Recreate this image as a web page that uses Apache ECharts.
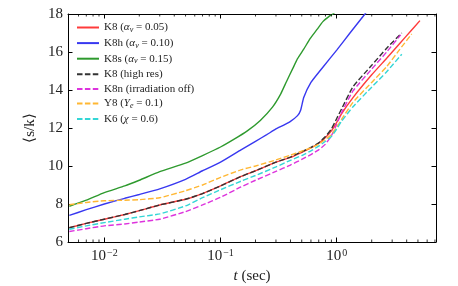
<!DOCTYPE html>
<html>
<head>
<meta charset="utf-8">
<script src="https://cdn.jsdelivr.net/npm/echarts@6/dist/echarts.min.js"></script>
<style>html,body{margin:0;padding:0;background:#fff}#c{width:458px;height:286px}</style>
</head>
<body>
<div id="c"></div>
<script>
// ---- data ----
const seriesNames = ['K8', 'K8h', 'K8s', 'K8 (high res)', 'K8n', 'Y8', 'K6'];
const legendLabels = [
  'K8 ({i|α}{sub|ν} = 0.05)',
  'K8h ({i|α}{sub|ν} = 0.10)',
  'K8s ({i|α}{sub|ν} = 0.15)',
  'K8 (high res)',
  'K8n (irradiation off)',
  'Y8 ({i|Y}{sub|e} = 0.1)',
  'K6 ({i|χ} = 0.6)'
];
const tRed = [0.005, 0.007, 0.01, 0.015, 0.02, 0.03, 0.05, 0.07, 0.1, 0.15, 0.2, 0.3, 0.4, 0.5, 0.6, 0.7, 0.8, 0.9, 1.0, 1.1, 1.38, 2.0, 2.69, 3.5, 4.3, 5.2];
const sRed = [6.75, 6.98, 7.2, 7.45, 7.65, 7.95, 8.25, 8.55, 8.95, 9.45, 9.75, 10.2, 10.45, 10.72, 10.95, 11.2, 11.5, 11.85, 12.3, 12.75, 13.6, 14.8, 15.67, 16.46, 17.08, 17.65];
const tBlue = [0.005, 0.007, 0.01, 0.015, 0.02, 0.03, 0.05, 0.07, 0.1, 0.15, 0.2, 0.25, 0.3, 0.35, 0.4, 0.46, 0.49, 0.52, 0.6, 0.76, 1.0, 1.3, 1.75, 1.85];
const sBlue = [7.4, 7.7, 8.0, 8.3, 8.5, 8.8, 9.3, 9.75, 10.2, 10.85, 11.3, 11.65, 11.95, 12.15, 12.35, 12.65, 12.95, 13.6, 14.4, 15.2, 16.1, 17.0, 18.0, 18.2];
const tGreen = [0.005, 0.007, 0.01, 0.015, 0.02, 0.03, 0.05, 0.07, 0.1, 0.13, 0.17, 0.22, 0.28, 0.33, 0.37, 0.42, 0.46, 0.52, 0.59, 0.68, 0.76, 0.85, 0.95, 1.0];
const sGreen = [7.88, 8.2, 8.6, 8.95, 9.25, 9.7, 10.15, 10.55, 11.0, 11.4, 11.85, 12.4, 13.1, 13.8, 14.45, 15.15, 15.65, 16.15, 16.7, 17.2, 17.6, 17.85, 18.05, 18.2];
const tBlack = [0.005, 0.007, 0.01, 0.015, 0.02, 0.03, 0.05, 0.07, 0.1, 0.15, 0.2, 0.3, 0.4, 0.5, 0.6, 0.7, 0.8, 0.9, 1.0, 1.1, 1.38, 2.0, 2.69, 3.63];
const sBlack = [6.75, 6.98, 7.2, 7.45, 7.65, 7.95, 8.25, 8.55, 8.95, 9.45, 9.75, 10.2, 10.47, 10.75, 10.98, 11.22, 11.55, 11.95, 12.5, 13.0, 14.17, 15.3, 16.2, 17.0];
const tMag = [0.005, 0.007, 0.01, 0.015, 0.02, 0.03, 0.05, 0.07, 0.1, 0.15, 0.2, 0.3, 0.4, 0.5, 0.6, 0.7, 0.8, 0.9, 1.0, 1.1, 1.38, 2.0, 2.69, 3.55];
const sMag = [6.55, 6.7, 6.85, 6.95, 7.05, 7.2, 7.6, 7.95, 8.35, 8.9, 9.25, 9.72, 10.05, 10.35, 10.6, 10.85, 11.15, 11.6, 12.2, 12.8, 13.95, 15.1, 16.0, 16.9];
const tOr = [0.005, 0.007, 0.01, 0.015, 0.02, 0.03, 0.05, 0.07, 0.1, 0.15, 0.2, 0.3, 0.4, 0.5, 0.6, 0.7, 0.8, 0.9, 1.0, 1.1, 1.38, 2.0, 2.69, 3.5, 4.42];
const sOr = [7.96, 8.08, 8.17, 8.2, 8.23, 8.33, 8.7, 9.0, 9.4, 9.8, 10.0, 10.32, 10.57, 10.78, 10.95, 11.15, 11.4, 11.65, 12.05, 12.45, 13.35, 14.4, 15.23, 16.15, 16.95];
const tCyan = [0.005, 0.007, 0.01, 0.015, 0.02, 0.03, 0.05, 0.07, 0.1, 0.15, 0.2, 0.3, 0.4, 0.5, 0.6, 0.7, 0.8, 0.9, 1.0, 1.1, 1.38, 2.0, 2.69, 3.63];
const sCyan = [6.67, 6.85, 7.02, 7.2, 7.32, 7.48, 7.9, 8.33, 8.75, 9.2, 9.5, 9.95, 10.3, 10.55, 10.8, 11.05, 11.3, 11.55, 11.95, 12.35, 13.12, 14.15, 14.96, 15.88];
const minorTicksX = [0.006, 0.007, 0.008, 0.009, 0.02, 0.03, 0.04, 0.05, 0.06, 0.07, 0.08, 0.09, 0.2, 0.3, 0.4, 0.5, 0.6, 0.7, 0.8, 0.9, 2, 3, 4, 5, 6, 7];
const yTicks = [6, 8, 10, 12, 14, 16, 18];

const FONT = 'Liberation Serif';
const zip = (a, b) => a.map((v, i) => [v, b[i]]);
const dash = [5.5, 2.4];

function lineSeries(name, t, s, color, dashed, z) {
  return {
    name: name, type: 'line', data: zip(t, s), showSymbol: false, symbol: 'none',
    smooth: 0.15, z: z, clip: true,
    lineStyle: { color: color, width: 1.4, type: dashed ? dash : 'solid' },
    itemStyle: { color: color }
  };
}

const xMin = 0.00487, xMax = 7.15;
const labelFmt = v => {
  const e = Math.log10(v);
  const r = Math.round(e);
  if (Math.abs(e - r) > 1e-6) return '';
  return '10{sup|' + (r < 0 ? '−' + (-r) : r) + '}';
};

const xAxisBase = {
  type: 'log', logBase: 10, min: xMin, max: xMax,
  axisLine: { show: true, lineStyle: { color: '#000', width: 1 } },
  axisTick: { show: true, inside: true, length: 4.5, lineStyle: { color: '#000', width: 1 } },
  splitLine: { show: false }, minorTick: { show: false }, minorSplitLine: { show: false }
};
const yAxisBase = {
  type: 'value', min: 6, max: 18, interval: 2,
  axisLine: { show: true, lineStyle: { color: '#000', width: 1 } },
  axisTick: { show: true, inside: true, length: 4.5, lineStyle: { color: '#000', width: 1 } },
  splitLine: { show: false }
};

const chart = echarts.init(document.getElementById('c'), null, { renderer: 'canvas' });
chart.setOption({
  animation: false,
  backgroundColor: '#fff',
  grid: { left: 68, right: 22, top: 14, bottom: 44, containLabel: false, outerBoundsMode: 'none' },
  legend: {
    data: seriesNames, orient: 'vertical', left: 76, top: 22,
    itemWidth: 22, itemHeight: 10, itemGap: 3.6, padding: 0,
    formatter: name => legendLabels[seriesNames.indexOf(name)],
    itemStyle: { opacity: 0 },
    textStyle: {
      fontFamily: FONT, fontSize: 11, color: '#222',
      rich: {
        i: { fontFamily: FONT, fontSize: 11, fontStyle: 'italic', color: '#222' },
        sub: { fontFamily: FONT, fontSize: 8, fontStyle: 'italic', color: '#222', verticalAlign: 'bottom', padding: [5, 0, 0, 0] }
      }
    }
  },
  xAxis: [
    Object.assign({}, xAxisBase, {
      position: 'bottom',
      name: '{i|t} (sec)', nameLocation: 'middle', nameGap: 25,
      nameTextStyle: { fontFamily: FONT, fontSize: 15, color: '#222',
        rich: { i: { fontFamily: FONT, fontSize: 15, fontStyle: 'italic', color: '#222' } } },
      axisLabel: {
        show: true, margin: 6, formatter: labelFmt, showMinLabel: false, showMaxLabel: false,
        fontFamily: FONT, fontSize: 15, color: '#222', hideOverlap: false,
        rich: { sup: { fontFamily: FONT, fontSize: 10, color: '#222', verticalAlign: 'top', padding: [0, 0, 7, 1] } }
      }
    }),
    Object.assign({}, xAxisBase, { position: 'top', axisLabel: { show: false } })
  ],
  yAxis: [
    Object.assign({}, yAxisBase, {
      position: 'left',
      name: '⟨s/k⟩', nameLocation: 'middle', nameGap: 29, nameRotate: 90,
      nameTextStyle: { fontFamily: FONT, fontSize: 15, color: '#222' },
      axisLabel: { show: true, margin: 5, fontFamily: FONT, fontSize: 15, color: '#222' }
    }),
    Object.assign({}, yAxisBase, { position: 'right', axisLabel: { show: false } })
  ],
  series: [
    lineSeries('K8', tRed, sRed, '#ff3b3b', false, 2),
    lineSeries('K8h', tBlue, sBlue, '#3838f0', false, 2),
    lineSeries('K8s', tGreen, sGreen, '#2e9a2e', false, 2),
    lineSeries('K8 (high res)', tBlack, sBlack, '#333333', true, 3),
    lineSeries('K8n', tMag, sMag, '#dd33dd', true, 3),
    lineSeries('Y8', tOr, sOr, '#ffb733', true, 3),
    lineSeries('K6', tCyan, sCyan, '#33d6d6', true, 3),
    {
      name: 'minorX', type: 'custom', z: 5, silent: true, clip: false,
      data: minorTicksX.map(v => [v, 6]),
      encode: { x: 0, y: 1 },
      renderItem: function (params, api) {
        const x = api.coord([api.value(0), 6])[0];
        const cs = params.coordSys;
        const st = { stroke: '#000', lineWidth: 0.8 };
        return {
          type: 'group', children: [
            { type: 'line', shape: { x1: x, y1: cs.y + cs.height, x2: x, y2: cs.y + cs.height - 2.5 }, style: st },
            { type: 'line', shape: { x1: x, y1: cs.y, x2: x, y2: cs.y + 2.5 }, style: st }
          ]
        };
      }
    }
  ]
});
</script>
</body>
</html>
